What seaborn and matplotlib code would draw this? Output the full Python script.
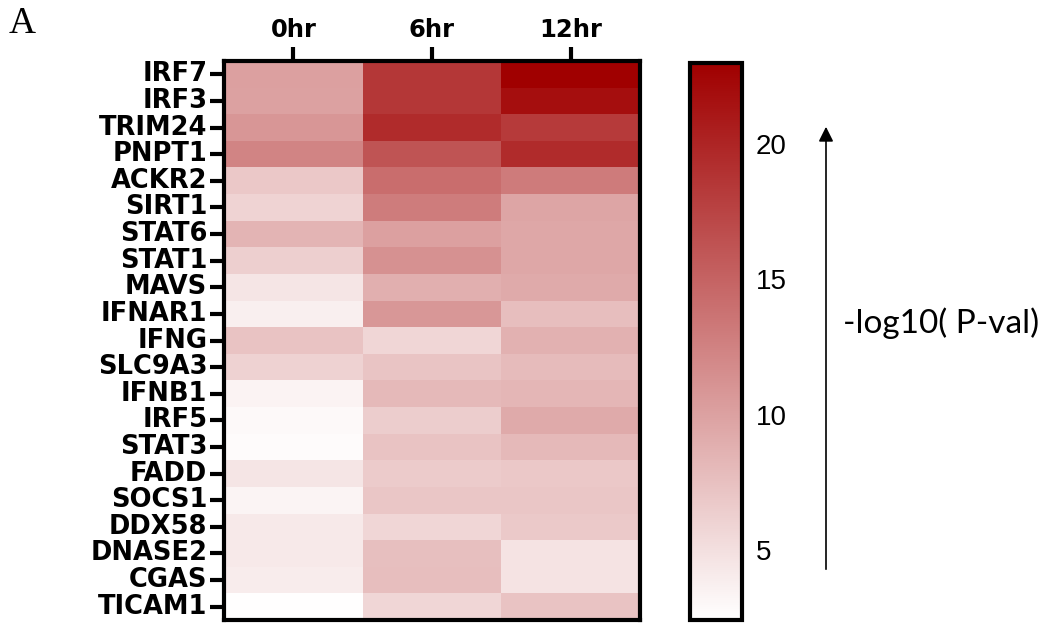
import matplotlib
matplotlib.use('Agg')
import numpy as np
import pandas as pd
import seaborn as sns
import matplotlib.pyplot as plt
from matplotlib.colors import LinearSegmentedColormap

genes = ['IRF7', 'IRF3', 'TRIM24', 'PNPT1', 'ACKR2', 'SIRT1', 'STAT6', 'STAT1',
         'MAVS', 'IFNAR1', 'IFNG', 'SLC9A3', 'IFNB1', 'IRF5', 'STAT3', 'FADD',
         'SOCS1', 'DDX58', 'DNASE2', 'CGAS', 'TICAM1']
timepoints = ['0hr', '6hr', '12hr']
hr0 = [10.1, 10.0, 10.9, 12.3, 6.9, 6.0, 8.5, 6.3, 4.5, 3.7, 7.3, 6.1,
       3.4, 2.9, 2.8, 4.5, 3.3, 4.2, 4.2, 4.0, 2.5]
hr6 = [18.5, 18.5, 19.5, 16.2, 14.2, 13.0, 10.1, 11.3, 8.9, 10.8, 5.7, 7.2,
       8.1, 6.5, 7.3, 6.6, 7.0, 5.7, 7.6, 7.7, 5.7]
hr12 = [23.0, 21.8, 18.3, 19.5, 13.1, 9.7, 9.5, 9.5, 9.3, 7.7, 8.7, 7.9,
        8.3, 9.3, 8.1, 6.9, 7.0, 6.8, 4.7, 4.7, 7.3]
cbar_ticks = [5, 10, 15, 20]

df = pd.DataFrame({timepoints[0]: hr0, timepoints[1]: hr6, timepoints[2]: hr12},
                  index=genes)

sns.set_theme(style='white')
plt.rcParams['font.family'] = ['Liberation Sans', 'DejaVu Sans']
plt.rcParams['text.color'] = 'black'
plt.rcParams['xtick.color'] = 'black'
plt.rcParams['ytick.color'] = 'black'
plt.rcParams['xtick.labelcolor'] = 'black'
plt.rcParams['ytick.labelcolor'] = 'black'

W, H = 1048, 623
fig = plt.figure(figsize=(W / 100, H / 100), dpi=100)
ax = fig.add_axes([224 / W, 3 / H, 416 / W, 559 / H])
cax = fig.add_axes([690 / W, 3 / H, 52 / W, 557 / H])

cmap = LinearSegmentedColormap.from_list('wr', ['#FFFFFF', '#A00000'])
sns.heatmap(df, ax=ax, cbar_ax=cax, cmap=cmap, vmin=2.4, vmax=23,
            cbar_kws={'ticks': cbar_ticks})

bold_font = dict(family=['DejaVu Sans'], fontweight='bold', fontsize=18.5,
                 color='black')
ax.xaxis.tick_top()
ax.set_xticklabels(timepoints, rotation=0, **dict(bold_font, fontsize=17.5))
ax.set_yticklabels(genes, rotation=0, **bold_font)
ax.tick_params(axis='both', which='both', length=10, width=3, color='black',
               pad=2, left=True, top=True, bottom=False, labelbottom=False)
ax.tick_params(axis='x', pad=4)
for s in ax.spines.values():
    s.set_visible(True)
    s.set_linewidth(3)
    s.set_color('black')

cbar = ax.collections[0].colorbar
cbar.outline.set_visible(True)
cbar.outline.set_linewidth(3)
cbar.outline.set_edgecolor('black')
cax.tick_params(axis='y', left=True, right=True, direction='in', length=6,
                width=2.5, color='black', labelsize=20, pad=10,
                labelcolor='black')

fig.text(843 / W, 1 - 323 / H, '-log10( P-val)', fontsize=24,
         family=['Lato', 'DejaVu Sans'], va='center', ha='left', color='black')
ax.annotate('', xy=(826 / W, 1 - 124 / H), xytext=(826 / W, 1 - 572 / H),
            xycoords='figure fraction', textcoords='figure fraction',
            arrowprops=dict(arrowstyle='-|>', lw=1.2, color='black',
                            mutation_scale=22))
fig.text(9 / W, 1 - 24 / H, 'A', fontsize=27,
         family=['Liberation Serif', 'DejaVu Serif'], va='center', ha='left',
         color='black')

fig.savefig('out.png', dpi=100)
